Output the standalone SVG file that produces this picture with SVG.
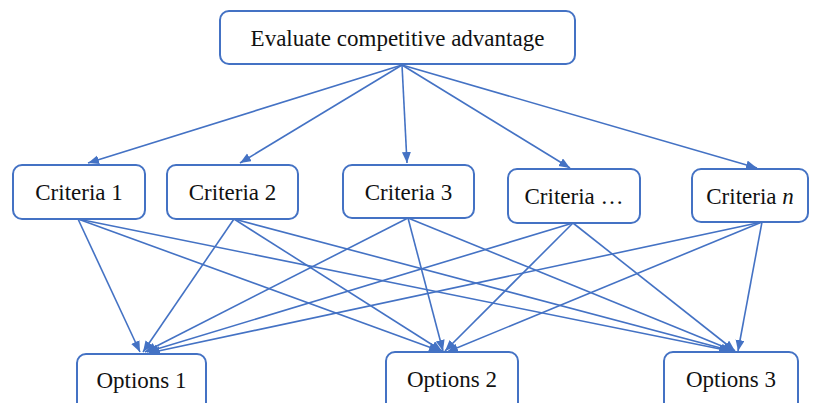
<svg xmlns="http://www.w3.org/2000/svg" width="817" height="403" viewBox="0 0 817 403">
<defs>
<marker id="ah" markerUnits="userSpaceOnUse" markerWidth="12" markerHeight="10" refX="11" refY="4.5" orient="auto">
<path d="M0,0 L11,4.5 L0,9 z" fill="#4472C4"/>
</marker>
<style>
.box{fill:#fff;stroke:#4472C4;stroke-width:2}
.t{font-family:"Liberation Serif","DejaVu Serif",serif;font-size:23px;fill:#111;text-anchor:middle;dominant-baseline:central}
.c line{stroke:#4472C4;stroke-width:1.6;marker-end:url(#ah)}
</style>
</defs>
<rect width="817" height="403" fill="#fff"/>
<g class="c" id="connectors">
<line x1="402" y1="65" x2="88" y2="163"/>
<line x1="402" y1="65" x2="240" y2="163"/>
<line x1="402" y1="65" x2="407" y2="163"/>
<line x1="402" y1="65" x2="570" y2="168"/>
<line x1="402" y1="65" x2="757" y2="168"/>
<line x1="78" y1="219" x2="140" y2="352"/>
<line x1="78" y1="219" x2="440" y2="351"/>
<line x1="78" y1="219" x2="730" y2="351"/>
<line x1="234" y1="219" x2="143" y2="352"/>
<line x1="234" y1="219" x2="442" y2="351"/>
<line x1="234" y1="219" x2="732" y2="351"/>
<line x1="408" y1="218" x2="145" y2="352"/>
<line x1="408" y1="218" x2="443" y2="351"/>
<line x1="408" y1="218" x2="734" y2="351"/>
<line x1="573" y1="223" x2="147" y2="352"/>
<line x1="573" y1="223" x2="445" y2="351"/>
<line x1="573" y1="223" x2="735" y2="351"/>
<line x1="762" y1="222" x2="149" y2="353"/>
<line x1="762" y1="222" x2="447" y2="352"/>
<line x1="762" y1="222" x2="738" y2="351"/>
</g>
<g id="top"><rect class="box" x="220" y="11" width="355" height="53" rx="9"/><text class="t" x="397.5" y="38">Evaluate competitive advantage</text></g>
<g id="c1"><rect class="box" x="13" y="165" width="132" height="54" rx="9"/><text class="t" x="79" y="192">Criteria 1</text></g>
<g id="c2"><rect class="box" x="167" y="165" width="131" height="54" rx="9"/><text class="t" x="232.5" y="192">Criteria 2</text></g>
<g id="c3"><rect class="box" x="343" y="165" width="131" height="53" rx="9"/><text class="t" x="408.5" y="192">Criteria 3</text></g>
<g id="c4"><rect class="box" x="508" y="169" width="132" height="54" rx="9"/><text class="t" x="574" y="196">Criteria …</text></g>
<g id="c5"><rect class="box" x="692" y="169" width="116" height="53" rx="9"/><text class="t" x="750" y="196">Criteria <tspan font-style="italic">n</tspan></text></g>
<g id="o1"><rect class="box" x="77" y="354" width="129" height="60" rx="9"/><text class="t" x="141.5" y="380">Options 1</text></g>
<g id="o2"><rect class="box" x="386" y="352" width="132" height="62" rx="9"/><text class="t" x="452" y="379">Options 2</text></g>
<g id="o3"><rect class="box" x="664" y="352" width="134" height="62" rx="9"/><text class="t" x="731" y="379">Options 3</text></g>
</svg>
